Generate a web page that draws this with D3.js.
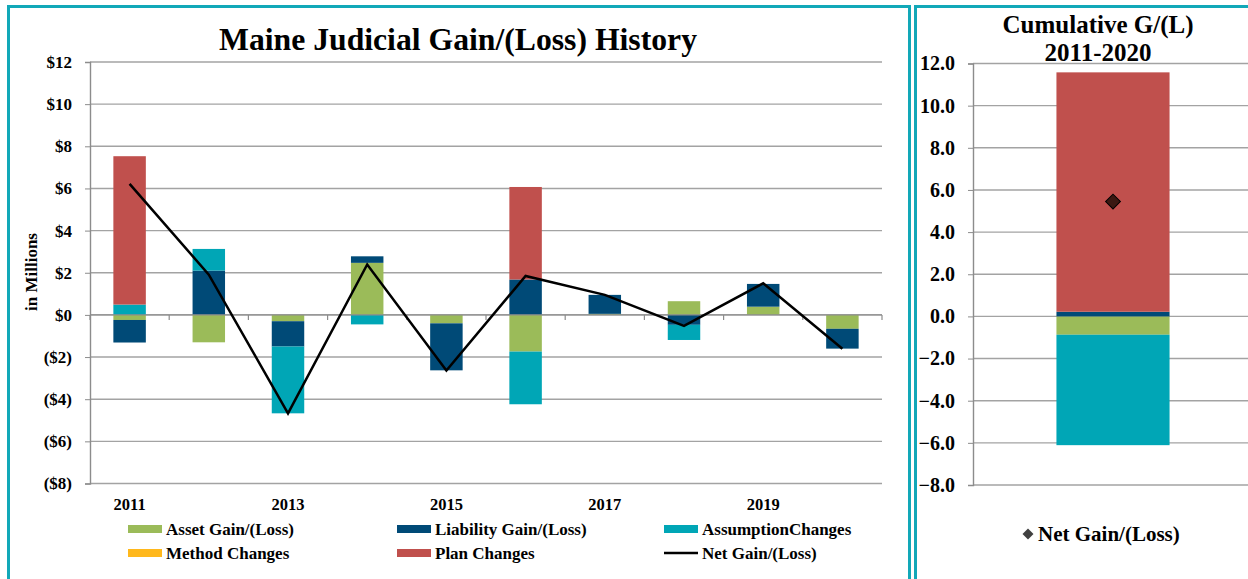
<!DOCTYPE html>
<html>
<head>
<meta charset="utf-8">
<script src="https://cdn.jsdelivr.net/npm/d3@7"></script>
<style>
  body { margin: 0; background: #fff; }
  svg { display: block; }
  text { font-family: "Liberation Serif", "Times New Roman", serif; font-weight: bold; fill: #000; }
</style>
</head>
<body>
<script>
// yearly components of gain/(loss), $ millions
const years = [2011, 2012, 2013, 2014, 2015, 2016, 2017, 2018, 2019, 2020]
const assetGain = [-0.24, -1.30, -0.30, 2.47, -0.40, -1.74, 0.05, 0.65, 0.39, -0.66]
const liabilityGain = [-1.07, 2.10, -1.20, 0.31, -2.23, 1.68, 0.90, -0.47, 1.08, -0.94]
const assumptionChanges = [0.49, 1.03, -3.17, -0.45, 0, -2.50, 0, -0.72, 0, 0]
const methodChanges = [0, 0, 0, 0, 0, 0, 0, 0, 0, 0]
const planChanges = [7.04, 0, 0, 0, 0, 4.39, 0, 0, 0, 0]
const netGain = [6.22, 1.91, -4.67, 2.39, -2.64, 1.85, 0.95, -0.52, 1.50, -1.61]
const yearLabels = [2011, 2013, 2015, 2017, 2019]
const leftTicks = [-8, -6, -4, -2, 0, 2, 4, 6, 8, 10, 12]

// cumulative 2011-2020
const cumAsset = -0.87
const cumLiability = 0.22
const cumAssumption = -5.24
const cumMethod = 0
const cumPlan = 11.36
const cumNet = 5.45
const rightTicks = [-8, -6, -4, -2, 0, 2, 4, 6, 8, 10, 12]

const series = [
  {key: 'asset', name: 'Asset Gain/(Loss)', color: '#9BBB59', values: assetGain, cum: cumAsset},
  {key: 'liability', name: 'Liability Gain/(Loss)', color: '#004A77', values: liabilityGain, cum: cumLiability},
  {key: 'assumption', name: 'AssumptionChanges', color: '#00A6B6', values: assumptionChanges, cum: cumAssumption},
  {key: 'method', name: 'Method Changes', color: '#FFB81C', values: methodChanges, cum: cumMethod},
  {key: 'plan', name: 'Plan Changes', color: '#C0504D', values: planChanges, cum: cumPlan},
]
const keys = series.map(s => s.key)
const colorOf = k => series.find(s => s.key === k).color

const W = 1248, H = 579
const border = '#12A8B8'
const grid = '#a3a3a3'

const svg = d3.select('body').append('svg').attr('width', W).attr('height', H)

// panel frames (open at the bottom, right one runs off the edge)
svg.append('path').attr('fill', 'none').attr('stroke', border).attr('stroke-width', 3)
   .attr('d', 'M8.5,579V6.5H909.5V579')
svg.append('path').attr('fill', 'none').attr('stroke', border).attr('stroke-width', 3)
   .attr('d', 'M915.5,579V6.5H1252')

// ---------- left chart ----------
const rows = years.map((yr, i) => {
  const r = {year: yr}
  series.forEach(s => { r[s.key] = s.values[i] })
  return r
})
const stacked = d3.stack().keys(keys).offset(d3.stackOffsetDiverging)(rows)

const x = d3.scaleBand().domain(years).range([90, 882]).paddingInner(0.59).paddingOuter(0.295)
const y = d3.scaleLinear().domain([-8, 12]).range([483.5, 62])

const left = svg.append('g')

left.append('g').selectAll('line').data(leftTicks).enter().append('line')
    .attr('x1', 90).attr('x2', 882)
    .attr('y1', d => y(d)).attr('y2', d => y(d))
    .attr('stroke', grid).attr('stroke-width', 1.4)

const yAxis = left.append('g').attr('transform', 'translate(90,0)')
    .call(d3.axisLeft(y).tickValues(leftTicks).tickSize(5).tickPadding(13)
      .tickFormat(d => d < 0 ? '($' + (-d) + ')' : '$' + d))
yAxis.select('.domain').attr('stroke', '#8c8c8c').attr('stroke-width', 1.4)
yAxis.selectAll('.tick line').attr('stroke', '#8c8c8c')
yAxis.selectAll('text').attr('font-size', 17).attr('fill', '#000')
     .attr('font-family', '"Liberation Serif", serif').attr('font-weight', 'bold')

left.append('g').selectAll('g').data(stacked).enter().append('g')
    .attr('fill', d => colorOf(d.key))
  .selectAll('rect').data(d => d).enter().append('rect')
    .attr('x', d => x(d.data.year))
    .attr('width', x.bandwidth())
    .attr('y', d => y(Math.max(d[0], d[1])))
    .attr('height', d => Math.abs(y(d[0]) - y(d[1])))

// zero axis with category tick marks
left.append('line').attr('x1', 90).attr('x2', 882).attr('y1', y(0)).attr('y2', y(0))
    .attr('stroke', '#8c8c8c').attr('stroke-width', 1.4)
left.append('g').selectAll('line').data(d3.range(years.length + 1)).enter().append('line')
    .attr('x1', i => 90 + i * x.step()).attr('x2', i => 90 + i * x.step())
    .attr('y1', y(0)).attr('y2', y(0) + 5)
    .attr('stroke', '#8c8c8c').attr('stroke-width', 1.2)

left.append('path').datum(years.map((yr, i) => [yr, netGain[i]]))
    .attr('fill', 'none').attr('stroke', '#000').attr('stroke-width', 2.5)
    .attr('d', d3.line().x(d => x(d[0]) + x.bandwidth() / 2).y(d => y(d[1])))

left.append('g').selectAll('text').data(yearLabels).enter().append('text')
    .attr('x', d => x(d) + x.bandwidth() / 2).attr('y', 510)
    .attr('text-anchor', 'middle').attr('font-size', 16.5).text(d => d)

left.append('text').attr('x', 458).attr('y', 50).attr('text-anchor', 'middle')
    .attr('font-size', 31.7).text('Maine Judicial Gain/(Loss) History')

left.append('text').attr('transform', 'translate(37,272) rotate(-90)')
    .attr('text-anchor', 'middle').attr('font-size', 17).text('in Millions')

// legend
const legendItems = [
  {name: 'Asset Gain/(Loss)', color: '#9BBB59', col: 0, row: 0},
  {name: 'Liability Gain/(Loss)', color: '#004A77', col: 1, row: 0},
  {name: 'AssumptionChanges', color: '#00A6B6', col: 2, row: 0},
  {name: 'Method Changes', color: '#FFB81C', col: 0, row: 1},
  {name: 'Plan Changes', color: '#C0504D', col: 1, row: 1},
  {name: 'Net Gain/(Loss)', color: '#000', col: 2, row: 1, line: true},
]
const colX = [128, 397, 664]
const rowY = [529, 553]
const leg = left.append('g').selectAll('g').data(legendItems).enter().append('g')
    .attr('transform', d => 'translate(' + colX[d.col] + ',' + rowY[d.row] + ')')
leg.filter(d => !d.line).append('rect')
    .attr('x', 0).attr('y', -4).attr('width', 34).attr('height', 8).attr('fill', d => d.color)
leg.filter(d => d.line).append('line')
    .attr('x1', 0).attr('x2', 34).attr('y1', 0).attr('y2', 0)
    .attr('stroke', '#000').attr('stroke-width', 2.5)
leg.append('text').attr('x', 38).attr('y', 5.5).attr('font-size', 17).text(d => d.name)

// ---------- right chart ----------
const cumRow = {cat: 'cum'}
series.forEach(s => { cumRow[s.key] = s.cum })
const cumStacked = d3.stack().keys(keys).offset(d3.stackOffsetDiverging)([cumRow])

const x2 = d3.scaleBand().domain(['cum']).range([973, 1253]).paddingInner(0.596).paddingOuter(0.298)
const y2 = d3.scaleLinear().domain([-8, 12]).range([485, 63.5])

const right = svg.append('g')

right.append('g').selectAll('line').data(rightTicks).enter().append('line')
    .attr('x1', 973).attr('x2', 1248)
    .attr('y1', d => y2(d)).attr('y2', d => y2(d))
    .attr('stroke', grid).attr('stroke-width', 1.4)

const yAxis2 = right.append('g').attr('transform', 'translate(973,0)')
    .call(d3.axisLeft(y2).tickValues(rightTicks).tickSize(5).tickPadding(13)
      .tickFormat(d3.format('.1f')))
yAxis2.select('.domain').attr('stroke', '#8c8c8c').attr('stroke-width', 1.4)
yAxis2.selectAll('.tick line').attr('stroke', '#8c8c8c')
yAxis2.selectAll('text').attr('font-size', 20).attr('fill', '#000')
      .attr('font-family', '"Liberation Serif", serif').attr('font-weight', 'bold')

right.append('g').selectAll('rect').data(cumStacked).enter().append('rect')
    .attr('fill', d => colorOf(d.key))
    .attr('x', x2('cum'))
    .attr('width', x2.bandwidth())
    .attr('y', d => y2(Math.max(d[0][0], d[0][1])))
    .attr('height', d => Math.abs(y2(d[0][0]) - y2(d[0][1])))

right.append('path')
    .attr('transform', 'translate(' + (x2('cum') + x2.bandwidth() / 2) + ',' + y2(cumNet) + ') rotate(45)')
    .attr('d', d3.symbol(d3.symbolSquare, 110)())
    .attr('fill', '#3b1812').attr('stroke', '#000').attr('stroke-width', 1)

right.append('text').attr('x', 1098).attr('y', 33).attr('text-anchor', 'middle')
    .attr('font-size', 25).text('Cumulative G/(L)')
right.append('text').attr('x', 1098).attr('y', 61).attr('text-anchor', 'middle')
    .attr('font-size', 25).text('2011-2020')

right.append('path')
    .attr('transform', 'translate(1028,534) rotate(45)')
    .attr('d', d3.symbol(d3.symbolSquare, 60)())
    .attr('fill', '#404040')
right.append('text').attr('x', 1038).attr('y', 541).attr('font-size', 21).text('Net Gain/(Loss)')
</script>
</body>
</html>
